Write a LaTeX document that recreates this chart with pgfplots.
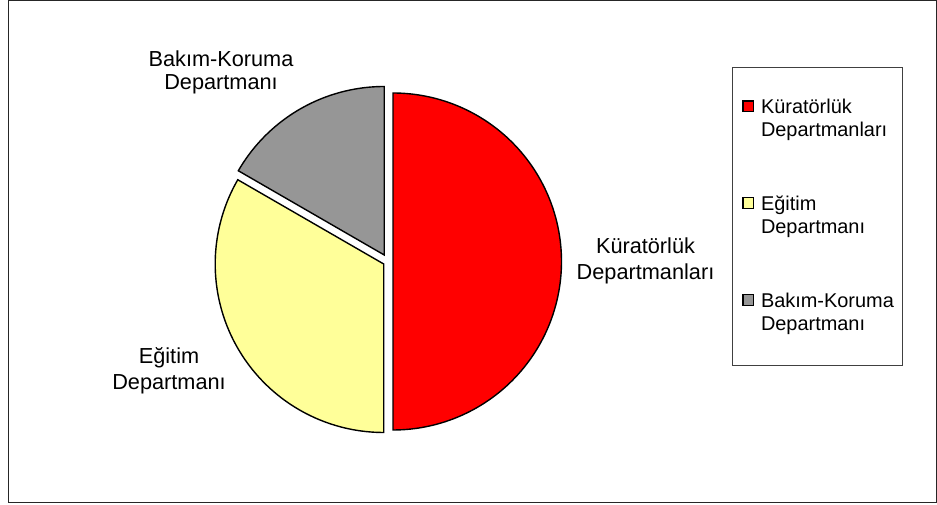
\documentclass[border=0pt]{standalone}
\usepackage{fontspec}
\setmainfont{Liberation Sans}
\usepackage{pgfplots}
\pgfplotsset{compat=1.18}
\definecolor{kred}{HTML}{FF0000}
\definecolor{kyel}{HTML}{FFFF99}
\definecolor{kgry}{HTML}{969696}
\newcommand{\lfont}{\fontsize{21.8}{26}\selectfont}
\newcommand{\twol}[2]{\vtop{\hbox{\strut #1}\hbox{\strut #2}}}
\begin{document}
\begin{tikzpicture}
\begin{axis}[
  x=1bp, y=1bp, scale only axis,
  xmin=-388, xmax=549, ymin=-243.5, ymax=261.5,
  hide axis, clip=false,
  legend style={at={(axis cs:344,194.5)}, anchor=north west,
    draw=none, fill=none,
    inner xsep=10bp, inner ysep=30bp, row sep=79bp, column sep=7bp,
    nodes={inner sep=0pt},
    font=\fontsize{20}{23.5}\selectfont},
  legend cell align=left,
  legend image code/.code={\draw[#1,line width=1.3bp] (0bp,-5.25bp) rectangle (10.5bp,5.25bp);},
]
% shares: Kuratorluk 50%, Egitim 33.3%, Bakim-Koruma 16.7%  (angles: -90..90, 150..270, 90..150)
\addplot[forget plot, fill=kred, draw=black, line width=1.4bp, data cs=polar,
  domain=-90:90, samples=121, shift={(5bp,0bp)}] (x,168.5) -- (axis cs:0,0) -- cycle;
\addplot[forget plot, fill=kyel, draw=black, line width=1.4bp, data cs=polar,
  domain=150:270, samples=81, shift={(-4.3bp,-2.5bp)}] (x,168.5) -- (axis cs:0,0) -- cycle;
\addplot[forget plot, fill=kgry, draw=black, line width=1.4bp, data cs=polar,
  domain=90:150, samples=41, shift={(-3.75bp,6.5bp)}] (x,168.5) -- (axis cs:0,0) -- cycle;

\addlegendimage{fill=kred, draw=black}
\addlegendentry{\twol{Küratörlük}{Departmanları}}
\addlegendimage{fill=kyel, draw=black}
\addlegendentry{\twol{Eğitim}{Departmanı}}
\addlegendimage{fill=kgry, draw=black}
\addlegendentry{\twol{Bakım-Koruma}{Departmanı}}

\path (axis cs:-388,-243.5) rectangle (axis cs:549,261.5);
\draw[line width=1bp, black!85] (axis cs:-380,260.5) rectangle (axis cs:548,-241.5);
\draw[line width=0.8bp, black!75] (axis cs:344,194.5) rectangle (axis cs:514,-103.5);

\node[anchor=base, font=\lfont] at (axis cs:257.5,7.5) {Küratörlük};
\node[anchor=base, font=\lfont] at (axis cs:257.5,-18.5) {Departmanları};
\node[anchor=base, font=\lfont] at (axis cs:-219,-102.5) {Eğitim};
\node[anchor=base, font=\lfont] at (axis cs:-219,-128.5) {Departmanı};
\node[anchor=base, font=\lfont] at (axis cs:-167,194.8) {Bakım-Koruma};
\node[anchor=base, font=\lfont] at (axis cs:-167,171.5) {Departmanı};
\end{axis}
\end{tikzpicture}
\end{document}
